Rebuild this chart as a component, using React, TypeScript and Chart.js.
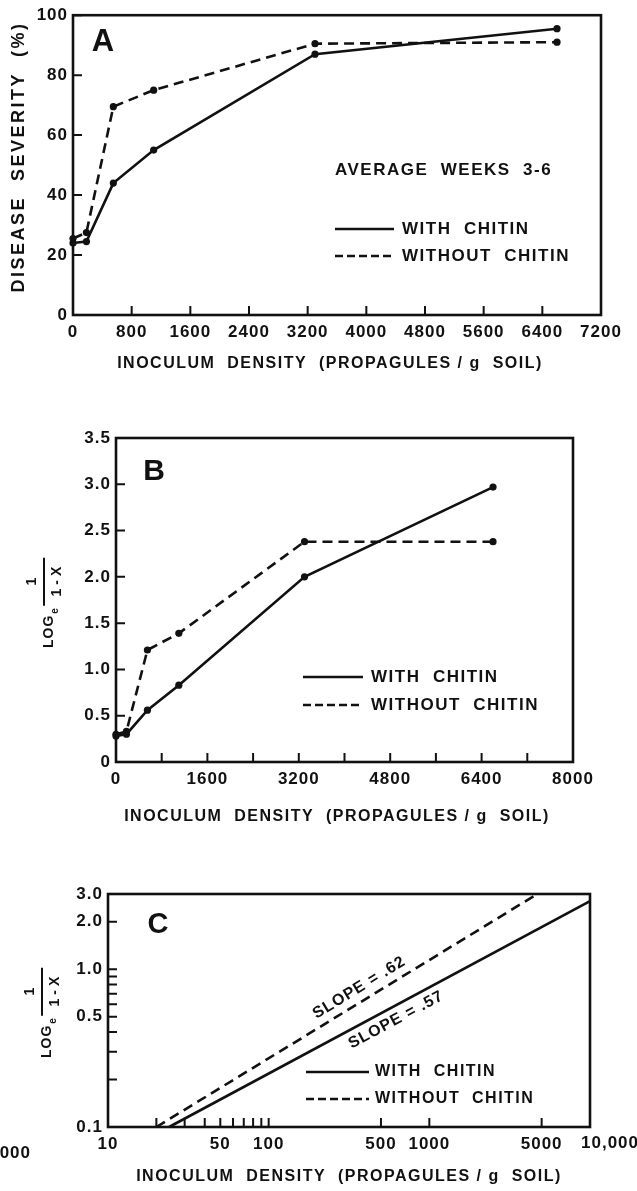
import { useEffect, useRef } from 'react';
import { Chart, registerables } from 'chart.js';

Chart.register(...registerables);

// ---------------- Data ----------------
// Panel A
const densityA = [0, 183, 550, 1100, 3300, 6600];
const withChitinA = [24, 24.5, 44, 55, 87, 95.5];
const withoutChitinA = [25.5, 27.5, 69.5, 75, 90.5, 91];
const xTicksA = [0, 800, 1600, 2400, 3200, 4000, 4800, 5600, 6400, 7200];
const yTicksA = [0, 20, 40, 60, 80, 100];

// Panel B
const densityB = [0, 183, 550, 1100, 3300, 6600];
const withChitinB = [0.28, 0.3, 0.56, 0.83, 2.0, 2.97];
const withoutChitinB = [0.3, 0.33, 1.21, 1.39, 2.38, 2.38];
const xTicksB = [0, 800, 1600, 2400, 3200, 4000, 4800, 5600, 6400, 7200, 8000];
const xLabelsB = [0, 1600, 3200, 4800, 6400, 8000];
const yTicksB = [0, 0.5, 1, 1.5, 2, 2.5, 3, 3.5];

// Panel C (log-log fitted lines)
const densityWithC = [24, 10000];
const withChitinC = [0.1, 2.7];
const densityWithoutC = [20, 4700];
const withoutChitinC = [0.1, 3.0];
const xTicksC = [10, 20, 30, 40, 50, 60, 70, 80, 90, 100, 500, 1000, 5000, 10000];
const xLabelsC = [10, 50, 100, 500, 1000, 5000];
const xLastLabelC = '10,000';
const yTicksC = [0.1, 0.2, 0.3, 0.4, 0.5, 0.6, 0.7, 0.8, 0.9, 1, 2, 3];
const yLabelsC = [0.1, 0.5, 1, 2, 3];

const seriesNames = ['WITH CHITIN', 'WITHOUT CHITIN'];
const xTitle = 'INOCULUM  DENSITY  (PROPAGULES / g  SOIL)';
const yTitleA = 'DISEASE  SEVERITY  (%)';

// ---------------- Styling ----------------
const INK = '#111';
const FONT = '"Liberation Sans", Arial, sans-serif';
const tickFont = { family: FONT, size: 17, weight: 'bold' as const };

function pts(xs: number[], ys: number[]) {
  return xs.map((x, i) => ({ x, y: ys[i] }));
}

function lineDs(label: string, data: any[], dashed: boolean, radius: number) {
  return {
    label,
    data,
    borderColor: INK,
    backgroundColor: INK,
    borderWidth: 2.6,
    borderDash: dashed ? [10, 6] : [],
    pointRadius: radius,
    pointBackgroundColor: INK,
    pointBorderColor: INK,
    pointBorderWidth: 0,
    tension: 0,
    clip: false,
  };
}

function txt(ctx: CanvasRenderingContext2D, s: string, x: number, y: number, size: number, sp = 0, align: CanvasTextAlign = 'center', rot = 0) {
  ctx.save();
  ctx.translate(x, y);
  if (rot) ctx.rotate(rot);
  ctx.font = `bold ${size}px ${FONT}`;
  (ctx as any).letterSpacing = sp + 'px';
  ctx.textAlign = align;
  ctx.textBaseline = 'middle';
  ctx.fillStyle = INK;
  ctx.fillText(s, 0, 0);
  ctx.restore();
}

function drawLogTitle(ctx: CanvasRenderingContext2D, bx: number, by: number) {
  ctx.save();
  ctx.translate(bx, by);
  ctx.rotate(-Math.PI / 2);
  ctx.fillStyle = INK;
  ctx.strokeStyle = INK;
  ctx.textBaseline = 'alphabetic';
  ctx.textAlign = 'left';
  ctx.font = `bold 14px ${FONT}`;
  (ctx as any).letterSpacing = '1px';
  ctx.fillText('LOG', 0, 0);
  const w = ctx.measureText('LOG').width;
  ctx.font = `bold 10px ${FONT}`;
  ctx.fillText('e', w + 1, 5);
  const f0 = w + 9;
  const fl = 48;
  ctx.lineWidth = 2;
  ctx.beginPath();
  ctx.moveTo(f0, -9);
  ctx.lineTo(f0 + fl, -9);
  ctx.stroke();
  ctx.font = `bold 14px ${FONT}`;
  ctx.textAlign = 'center';
  (ctx as any).letterSpacing = '4px';
  ctx.fillText('1-X', f0 + fl / 2 + 2, 8);
  (ctx as any).letterSpacing = '0px';
  ctx.fillText('1', f0 + fl / 2, -17);
  ctx.restore();
}

function makePlugin(opts: any) {
  return {
    id: 'panel' + Math.random().toString(36).slice(2),
    beforeDraw(chart: any) {
      chart.ctx.letterSpacing = '1px';
    },
    beforeDatasetsDraw(chart: any) {
      const ctx = chart.ctx as CanvasRenderingContext2D;
      const a = chart.chartArea;
      const xs = chart.scales.x;
      const ys = chart.scales.y;
      ctx.save();
      ctx.strokeStyle = INK;
      ctx.lineWidth = 2;
      ctx.beginPath();
      for (const t of xs.ticks) {
        const px = xs.getPixelForValue(t.value);
        ctx.moveTo(px, a.bottom);
        ctx.lineTo(px, a.bottom - opts.tickLen);
      }
      for (const t of ys.ticks) {
        const py = ys.getPixelForValue(t.value);
        ctx.moveTo(a.left, py);
        ctx.lineTo(a.left + opts.tickLen, py);
      }
      ctx.stroke();
      ctx.lineWidth = 2.6;
      ctx.strokeRect(a.left, a.top, a.right - a.left, a.bottom - a.top);
      ctx.restore();
    },
    afterDraw(chart: any) {
      const ctx = chart.ctx as CanvasRenderingContext2D;
      const L = opts.legend;
      ctx.save();
      ctx.strokeStyle = INK;
      ctx.lineWidth = 2.5;
      ctx.beginPath();
      ctx.moveTo(L.x1, L.y1);
      ctx.lineTo(L.x2, L.y1);
      ctx.stroke();
      ctx.setLineDash([8, 4]);
      ctx.beginPath();
      ctx.moveTo(L.x1, L.y2);
      ctx.lineTo(L.x2, L.y2);
      ctx.stroke();
      ctx.restore();
      txt(ctx, seriesNames[0].replace(' ', '  '), L.tx, L.y1, L.size, L.sp, 'left');
      txt(ctx, seriesNames[1].replace(' ', '  '), L.tx, L.y2, L.size, L.sp, 'left');
      for (const t of opts.texts) txt(ctx, t.s, t.x, t.y, t.size, t.sp || 0, t.align || 'center', t.rot || 0);
      if (opts.xExtraLabel) {
        const e = opts.xExtraLabel;
        const px = chart.scales.x.getPixelForValue(e.value) + e.dx;
        txt(ctx, e.s, px, chart.chartArea.bottom + e.dy, 17, 1, 'center');
      }
      if (opts.logTitle) drawLogTitle(ctx, opts.logTitle.x, opts.logTitle.y);
      if (opts.slopes) {
        for (const sl of opts.slopes) {
          const meta = chart.getDatasetMeta(sl.ds);
          const p0 = meta.data[0];
          const p1 = meta.data[1];
          const ang = Math.atan2(p1.y - p0.y, p1.x - p0.x);
          const px = chart.scales.x.getPixelForValue(sl.at);
          const t = (px - p0.x) / (p1.x - p0.x);
          const py = p0.y + t * (p1.y - p0.y);
          ctx.save();
          ctx.translate(px, py);
          ctx.rotate(ang);
          ctx.font = `bold 16px ${FONT}`;
          (ctx as any).letterSpacing = '1px';
          ctx.textAlign = 'center';
          ctx.textBaseline = 'middle';
          ctx.fillStyle = INK;
          ctx.fillText(sl.text, 0, sl.off);
          ctx.restore();
        }
      }
    },
  };
}

function baseScale(ticksArr: number[], fmt: (v: number) => string, size: number, isX: boolean, extra: any = {}) {
  return {
    grid: { display: false, drawTicks: false, tickLength: 0 },
    border: { display: false },
    afterBuildTicks: (s: any) => {
      s.ticks = ticksArr.map((v) => ({ value: v }));
    },
    afterFit: (s: any) => {
      if (isX) s.height = size;
      else s.width = size;
    },
    ticks: {
      font: tickFont,
      color: INK,
      padding: isX ? 7 : 5,
      autoSkip: false,
      maxRotation: 0,
      minRotation: 0,
      callback: (v: any) => fmt(Number(v)),
    },
    ...extra,
  };
}

function configA() {
  return {
    type: 'line',
    data: {
      datasets: [
        lineDs(seriesNames[0], pts(densityA, withChitinA), false, 3.6),
        lineDs(seriesNames[1], pts(densityA, withoutChitinA), true, 3.6),
      ],
    },
    options: {
      responsive: false,
      animation: false,
      devicePixelRatio: 1,
      layout: { padding: { left: 0, right: 36, top: 11, bottom: 0 } },
      plugins: { legend: { display: false }, tooltip: { enabled: false } },
      scales: {
        x: baseScale(xTicksA, (v) => String(v), 65, true, { type: 'linear', min: 0, max: 7200 }),
        y: baseScale(yTicksA, (v) => String(v), 73, false, { type: 'linear', min: 0, max: 100 }),
      },
    },
    plugins: [
      makePlugin({
        tickLen: 9,
        legend: { x1: 335, x2: 394, tx: 402, y1: 229, y2: 256, size: 17, sp: 1.5 },
        texts: [
          { s: 'A', x: 103, y: 42, size: 31 },
          { s: 'AVERAGE  WEEKS  3-6', x: 335, y: 170, size: 17, sp: 1.5, align: 'left' },
          { s: xTitle, x: 330, y: 364, size: 16, sp: 1.5 },
          { s: yTitleA, x: 19, y: 157, size: 18, sp: 2.5, rot: -Math.PI / 2 },
        ],
      }),
    ],
  };
}

function configB() {
  return {
    type: 'line',
    data: {
      datasets: [
        lineDs(seriesNames[0], pts(densityB, withChitinB), false, 3.6),
        lineDs(seriesNames[1], pts(densityB, withoutChitinB), true, 3.6),
      ],
    },
    options: {
      responsive: false,
      animation: false,
      devicePixelRatio: 1,
      layout: { padding: { left: 0, right: 64, top: 38, bottom: 0 } },
      plugins: { legend: { display: false }, tooltip: { enabled: false } },
      scales: {
        x: baseScale(xTicksB, (v) => (xLabelsB.includes(v) ? String(v) : ''), 78, true, { type: 'linear', min: 0, max: 8000 }),
        y: baseScale(yTicksB, (v) => (v === 0 ? '0' : v.toFixed(1)), 116, false, { type: 'linear', min: 0, max: 3.5 }),
      },
    },
    plugins: [
      makePlugin({
        tickLen: 9,
        legend: { x1: 303, x2: 363, tx: 371, y1: 277, y2: 305, size: 17, sp: 1.5 },
        texts: [
          { s: 'B', x: 154, y: 72, size: 30 },
          { s: xTitle, x: 337, y: 417, size: 16, sp: 1.5 },
        ],
        logTitle: { x: 53, y: 248 },
      }),
    ],
  };
}

function configC() {
  return {
    type: 'line',
    data: {
      datasets: [
        lineDs(seriesNames[0], pts(densityWithC, withChitinC), false, 0),
        lineDs(seriesNames[1], pts(densityWithoutC, withoutChitinC), true, 0),
      ],
    },
    options: {
      responsive: false,
      animation: false,
      devicePixelRatio: 1,
      layout: { padding: { left: 0, right: 47, top: 34, bottom: 0 } },
      plugins: { legend: { display: false }, tooltip: { enabled: false } },
      scales: {
        x: baseScale(xTicksC, (v) => (xLabelsC.includes(v) ? String(v) : ''), 64, true, { type: 'logarithmic', min: 10, max: 10000 }),
        y: baseScale(yTicksC, (v) => (yLabelsC.includes(v) ? v.toFixed(1) : ''), 108, false, { type: 'logarithmic', min: 0.1, max: 3 }),
      },
    },
    plugins: [
      makePlugin({
        tickLen: 9,
        legend: { x1: 306, x2: 369, tx: 375, y1: 212, y2: 239, size: 16, sp: 1.5 },
        texts: [
          { s: 'C', x: 158, y: 65, size: 29 },
          { s: xTitle, x: 349, y: 317, size: 16, sp: 1.5 },
          { s: '10,000', x: 31, y: 293, size: 17, sp: 1, align: 'right' },
        ],
        xExtraLabel: { value: 10000, s: xLastLabelC, dx: 20, dy: 16 },
        logTitle: { x: 51, y: 198 },
        slopes: [
          { ds: 1, at: 404, off: -13, text: 'SLOPE = .62' },
          { ds: 0, at: 569, off: 13, text: 'SLOPE = .57' },
        ],
      }),
    ],
  };
}

function Panel({ top, height, make }: { top: number; height: number; make: () => any }) {
  const ref = useRef<HTMLCanvasElement>(null);
  useEffect(() => {
    const chart = new Chart(ref.current as HTMLCanvasElement, make());
    return () => chart.destroy();
  }, []);
  return (
    <div style={{ position: 'absolute', left: 0, top, width: 637, height }}>
      <canvas ref={ref} width={637} height={height} style={{ display: 'block', width: 637, height }} />
    </div>
  );
}

export default function App() {
  return (
    <div style={{ position: 'absolute', left: 0, top: 0, width: 637, height: 1191, background: '#fff', overflow: 'hidden' }}>
      <Panel top={0} height={380} make={configA} />
      <Panel top={400} height={440} make={configB} />
      <Panel top={860} height={331} make={configC} />
    </div>
  );
}
